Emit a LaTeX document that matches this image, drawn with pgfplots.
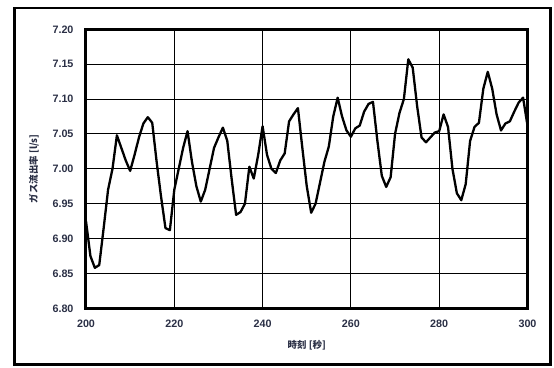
\documentclass[border=0pt]{standalone}
\usepackage{pgfplots}
\pgfplotsset{compat=1.18}
\usepackage{fontspec}
\setmainfont{Liberation Sans}
\newfontfamily\cjk{Noto Sans CJK JP}
\definecolor{lbl}{HTML}{2A2F45}
\begin{document}
\begin{tikzpicture}
\begin{axis}[
  scale only axis, width=441.5bp, height=279bp,
  xmin=200, xmax=300, ymin=6.8, ymax=7.2,
  xtick={200,220,240,260,280,300},
  ytick={6.80,6.85,6.90,6.95,7.00,7.05,7.10,7.15,7.20},
  grid=major, major grid style={black, line width=1.1bp},
  axis line style={line width=3bp},
  major tick length=0pt,
  /pgf/number format/assume math mode=true,
  yticklabel style={/pgf/number format/fixed, /pgf/number format/fixed zerofill, /pgf/number format/precision=2, xshift=-9bp},
  ticklabel style={font=\fontsize{10.8}{12}\selectfont\bfseries, text=lbl},
  xticklabel style={yshift=-8bp},
  xlabel={\cjk\bfseries 時刻 [秒]},
  ylabel={\cjk\bfseries ガス流出率 [l/s]},
  label style={font=\fontsize{9.5}{11}\selectfont, text=lbl},
  xlabel style={at={(axis description cs:0.5,0)}, anchor=center, yshift=-37bp},
  ylabel style={at={(axis description cs:-0.118,0.5)}, anchor=center},
]
\addplot[black, line width=2.3bp, line join=round] table {
200 6.925
201 6.875
202 6.858
203 6.862
204 6.915
205 6.970
206 7.000
207 7.048
208 7.030
209 7.012
210 6.997
211 7.020
212 7.045
213 7.065
214 7.074
215 7.066
216 7.010
217 6.960
218 6.915
219 6.912
220 6.970
221 7.000
222 7.030
223 7.054
224 7.010
225 6.975
226 6.953
227 6.970
228 7.000
229 7.030
230 7.045
231 7.059
232 7.040
233 6.985
234 6.934
235 6.938
236 6.950
237 7.003
238 6.986
239 7.020
240 7.061
241 7.020
242 7.000
243 6.994
244 7.012
245 7.022
246 7.068
247 7.078
248 7.087
249 7.030
250 6.975
251 6.937
252 6.950
253 6.980
254 7.010
255 7.032
256 7.075
257 7.102
258 7.075
259 7.055
260 7.046
261 7.058
262 7.062
263 7.082
264 7.093
265 7.096
266 7.040
267 6.990
268 6.974
269 6.988
270 7.050
271 7.080
272 7.100
273 7.157
274 7.145
275 7.090
276 7.045
277 7.038
278 7.045
279 7.052
280 7.054
281 7.078
282 7.060
283 7.000
284 6.965
285 6.955
286 6.978
287 7.040
288 7.060
289 7.066
290 7.115
291 7.139
292 7.115
293 7.078
294 7.055
295 7.065
296 7.068
297 7.082
298 7.095
299 7.102
300 7.062
};
\end{axis}
\draw[line width=2.8bp] ([shift={(-71.5bp,-56.5bp)}]current axis.south west) rectangle ([shift={(23bp,21.3bp)}]current axis.north east);
\path ([shift={(-86bp,-59bp)}]current axis.south west) rectangle ([shift={(26.5bp,29.3bp)}]current axis.north east);
\end{tikzpicture}
\end{document}
